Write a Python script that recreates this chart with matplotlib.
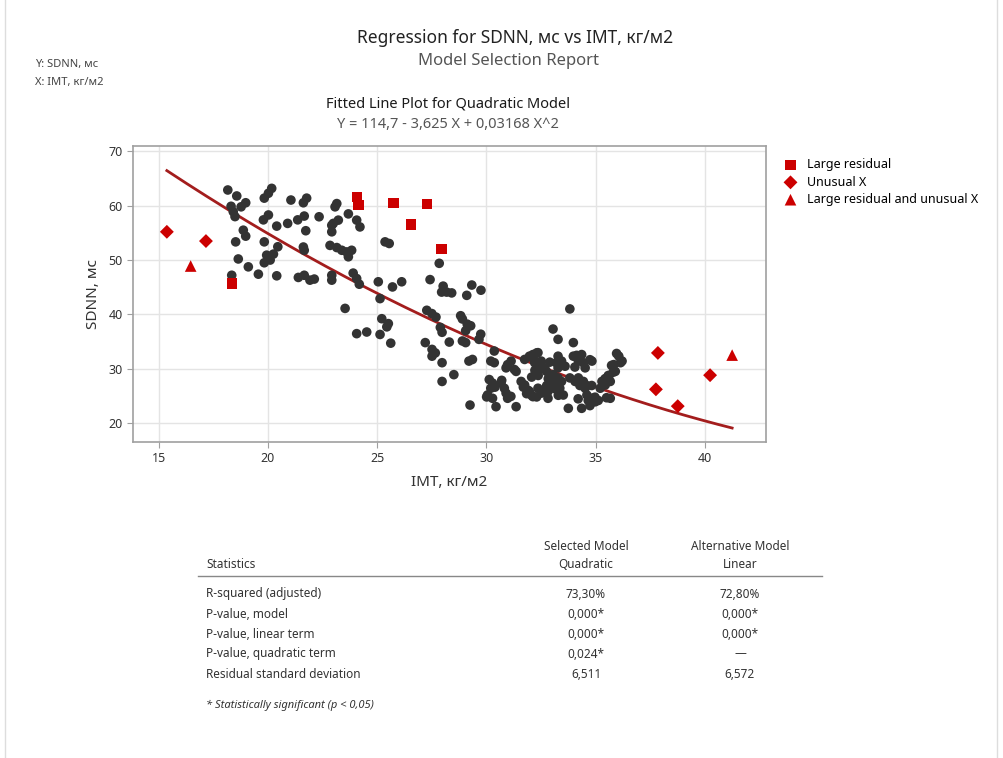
import matplotlib
matplotlib.use("Agg")
from matplotlib import pyplot as plt
from matplotlib.lines import Line2D
import numpy as np

plt.rcParams['font.family'] = ['Noto Sans', 'DejaVu Sans']

# --- data ---
imt = [
    # BMI 18 - 22.5
    18.16, 18.57, 18.31, 18.41, 18.98, 18.77, 18.49, 20.17, 20.02, 19.83,
    21.05, 21.62, 21.77, 20.02, 19.79, 20.40, 20.90, 21.36, 21.66, 22.34,
    21.73, 18.87, 18.98, 18.52, 19.83, 20.45, 21.66, 21.62, 18.64, 19.10,
    19.94, 20.10, 19.83, 20.25, 19.56, 20.40, 18.34, 21.39, 21.66, 21.92,
    22.12,
    # BMI 22.5 - 26.5
    23.15, 23.07, 23.68, 24.06, 24.21, 22.92, 23.22, 22.99, 22.92, 22.84,
    23.15, 23.38, 23.60, 23.83, 23.68, 25.36, 25.55, 22.92, 22.92, 23.90,
    24.06, 24.18, 25.05, 25.70, 26.12, 25.13, 23.53, 25.21, 25.44, 25.51,
    24.06, 24.52, 25.13, 25.62,
    # BMI 26.5 - 30
    27.42, 27.84, 28.02, 27.95, 28.18, 28.41, 29.33, 29.10, 29.75, 27.27,
    27.50, 27.69, 27.89, 27.97, 28.82, 28.90, 29.12, 29.28, 29.05, 29.74,
    29.66, 28.90, 29.05, 28.30, 27.20, 27.51, 27.66, 27.51, 27.97, 28.51,
    27.97, 29.20, 29.36, 29.25,
    # BMI 30 - 36.5
    30.20, 30.36, 30.36, 30.13, 30.28, 30.20, 30.05, 30.28, 30.44, 30.67,
    30.82, 30.90, 30.97, 31.12, 31.36, 30.97, 31.13, 31.28, 31.36, 30.90,
    31.75, 31.97, 32.13, 32.21, 32.36, 32.51, 32.67, 32.44, 32.75, 31.59,
    31.75, 31.97, 32.13, 32.36, 32.51, 32.82, 32.82, 33.05, 33.28, 33.82,
    33.98, 33.28, 33.44, 33.60, 33.28, 33.20, 33.05, 33.28, 33.44, 33.13,
    33.36, 33.52, 33.75, 34.36, 33.82, 34.06, 34.21, 34.44, 34.52, 34.60,
    34.83, 34.98, 33.98, 34.21, 34.36, 34.44, 34.52, 34.83, 35.29, 35.52,
    35.60, 35.67, 35.83, 35.90, 36.06, 36.14, 36.21, 35.21, 35.44, 35.67,
    30.39, 30.70, 30.01, 31.84, 31.69, 32.22, 32.37, 32.07, 32.83, 32.99,
    32.76, 33.14, 32.68, 31.92, 32.07, 32.30, 33.29, 34.28, 34.59, 34.82,
    34.20, 34.66, 34.74, 34.97, 35.12, 35.50, 35.96, 35.73, 35.80, 35.58,
    35.43, 34.13, 34.05, 34.74, 32.30, 32.15, 32.90,
]
sdnn = [
    62.9, 61.8, 59.9, 58.9, 60.55, 59.8, 58.0, 63.2, 62.3, 61.4,
    61.05, 60.55, 61.4, 58.3, 57.4, 56.25, 56.75, 57.4, 58.1, 57.97,
    55.4, 55.5, 54.4, 53.35, 53.35, 52.45, 51.8, 52.4, 50.2, 48.75,
    50.9, 50.0, 49.5, 51.1, 47.4, 47.1, 47.2, 46.8, 47.2, 46.3,
    46.5,
    60.4, 59.8, 58.5, 57.35, 56.1, 56.4, 57.35, 56.75, 55.2, 52.7,
    52.3, 51.8, 51.5, 51.8, 50.6, 53.35, 53.05, 47.2, 46.3, 47.6,
    46.6, 45.55, 46.0, 45.05, 46.0, 42.9, 41.1, 39.2, 37.7, 38.3,
    36.45, 36.75, 36.3, 34.7,
    46.4, 49.4, 45.2, 44.1, 44.1, 43.95, 45.4, 43.5, 44.45, 40.75,
    40.15, 39.5, 37.6, 36.7, 39.75, 39.15, 38.2, 37.9, 37.0, 36.35,
    35.4, 35.1, 34.8, 34.9, 34.8, 33.55, 32.9, 32.3, 31.1, 28.9,
    27.65, 31.4, 31.7, 23.3,
    31.4, 31.1, 33.25, 28.0, 27.35, 26.4, 25.15, 24.55, 23.0, 27.35,
    26.4, 25.5, 24.55, 24.9, 23.0, 30.75, 31.4, 29.85, 29.5, 30.15,
    31.7, 32.3, 32.6, 31.1, 32.95, 31.4, 30.15, 29.85, 29.5, 27.65,
    27.0, 25.8, 24.85, 26.4, 25.5, 25.8, 24.55, 37.3, 35.4, 41.0,
    34.8, 32.3, 31.4, 30.45, 30.15, 31.1, 28.9, 28.3, 27.65, 27.0,
    26.4, 25.15, 22.7, 22.7, 28.3, 27.65, 28.3, 27.65, 26.4, 25.15,
    24.55, 23.9, 32.3, 31.4, 32.6, 31.1, 30.15, 31.4, 27.65, 28.3,
    28.6, 27.65, 30.75, 29.5, 32.3, 31.1, 31.4, 26.4, 27.0, 24.55,
    26.6, 27.85, 24.8, 25.4, 26.6, 29.7, 28.75, 28.45, 28.15, 27.5,
    26.9, 26.3, 26.0, 26.0, 25.1, 24.8, 25.1, 26.9, 26.9, 26.9,
    24.45, 24.15, 23.2, 24.75, 24.15, 24.65, 32.8, 30.6, 29.35, 28.75,
    28.15, 32.45, 30.3, 31.65, 32.9, 31.85, 31.2,
]

large_resid_x = [18.34, 24.09, 24.15, 25.74, 27.29, 26.55, 27.95]
large_resid_y = [45.7, 61.55, 60.1, 60.55, 60.3, 56.55, 52.0]
unusual_x_x = [15.37, 17.16, 37.85, 37.76, 38.76, 40.24]
unusual_x_y = [55.2, 53.5, 32.9, 26.2, 23.1, 28.8]
both_x = [16.46, 41.25]
both_y = [48.9, 32.5]

coef = [114.7, -3.625, 0.03168]   # Y = b0 + b1 X + b2 X^2 (from the chart)
fit_range = [15.37, 41.25]

stat_rows = ["R-squared (adjusted)", "P-value, model", "P-value, linear term",
             "P-value, quadratic term", "Residual standard deviation"]
quad_vals = ["73,30%", "0,000*", "0,000*", "0,024*", "6,511"]
lin_vals = ["72,80%", "0,000*", "0,000*", "\u2014", "6,572"]

W, H = 1004, 758
fig = plt.figure(figsize=(W / 100, H / 100), dpi=100)


def ft(x, y, s, **kw):
    # place text using pixel coords of the reference
    fig.text(x / W, 1 - y / H, s, **kw)


# light page border
fig.add_artist(Line2D([5 / W, 5 / W], [0, 1], color='#dddddd', lw=1))
fig.add_artist(Line2D([997 / W, 997 / W], [0, 1], color='#dddddd', lw=1))

ft(515, 38, "Regression for SDNN, мс vs IMT, кг/м2", ha='center', va='center',
   fontsize=12.5, color='#222222')
ft(509, 61, "Model Selection Report", ha='center', va='center',
   fontsize=12, color='#555555')
ft(35, 64, "Y: SDNN, мс", ha='left', va='center', fontsize=8, color='#444444')
ft(35, 83, "X: IMT, кг/м2", ha='left', va='center', fontsize=8, color='#444444')
ft(448, 104, "Fitted Line Plot for Quadratic Model", ha='center', va='center',
   fontsize=10.5, color='#1a1a1a')
ft(448, 124, "Y = 114,7 - 3,625 X + 0,03168 X^2", ha='center', va='center',
   fontsize=10.5, color='#555555')

ax = fig.add_axes([133 / W, 1 - 442 / H, (766 - 133) / W, (442 - 146) / H])

xx = np.linspace(fit_range[0], fit_range[1], 200)
yy = coef[0] + coef[1] * xx + coef[2] * xx ** 2
ax.plot(xx, yy, color='#a31d1d', lw=2, zorder=2)

ax.scatter(imt, sdnn, s=48, color='#333333', edgecolors='none', zorder=3)
h1 = ax.scatter(large_resid_x, large_resid_y, s=55, marker='s', color='#cc0000',
                edgecolors='none', zorder=4, label="Large residual")
h2 = ax.scatter(unusual_x_x, unusual_x_y, s=50, marker='D', color='#cc0000',
                edgecolors='none', zorder=4, label="Unusual X")
h3 = ax.scatter(both_x, both_y, s=70, marker='^', color='#cc0000',
                edgecolors='none', zorder=4, label="Large residual and unusual X")

ax.set_xlim(13.82, 42.8)
ax.set_ylim(16.5, 71.0)
ax.set_xticks([15, 20, 25, 30, 35, 40])
ax.set_yticks([20, 30, 40, 50, 60, 70])
ax.grid(True, color='#e4e4e4', lw=1)
ax.set_axisbelow(True)
for sp in ax.spines.values():
    sp.set_color('#a0a0a0')
    sp.set_linewidth(1.2)
ax.tick_params(colors='#a0a0a0', labelcolor='#333333', labelsize=9, length=4)

ax.set_xlabel("IMT, кг/м2", fontsize=11, color='#333333', labelpad=7)
ax.set_ylabel("SDNN, мс", fontsize=11, color='#333333', labelpad=5)

ax.legend(handles=[h1, h2, h3], loc='upper left', bbox_to_anchor=(778 / W, 1 - 152 / H),
          bbox_transform=fig.transFigure, frameon=False, fontsize=9,
          handletextpad=0.8, labelspacing=0.35, borderpad=0, handlelength=1)

# --- statistics table ---
tc = '#333333'
fs = 8.5
ft(586, 546, "Selected Model", ha='center', va='center', fontsize=fs, color=tc)
ft(586, 565, "Quadratic", ha='center', va='center', fontsize=fs, color=tc)
ft(740, 546, "Alternative Model", ha='center', va='center', fontsize=fs, color=tc)
ft(740, 565, "Linear", ha='center', va='center', fontsize=fs, color=tc)
ft(206, 565, "Statistics", ha='left', va='center', fontsize=fs, color=tc)
fig.add_artist(Line2D([198 / W, 822 / W], [1 - 576 / H, 1 - 576 / H],
                      color='#888888', lw=1))
for i, (lab, q, l) in enumerate(zip(stat_rows, quad_vals, lin_vals)):
    y = 594 + 20 * i
    ft(206, y, lab, ha='left', va='center', fontsize=fs, color=tc)
    ft(586, y, q, ha='center', va='center', fontsize=fs, color=tc)
    ft(740, y, l, ha='center', va='center', fontsize=fs, color=tc)
ft(206, 705, "* Statistically significant (p < 0,05)", ha='left', va='center',
   fontsize=8, color=tc, style='italic')

fig.savefig("out.png", dpi=100)
